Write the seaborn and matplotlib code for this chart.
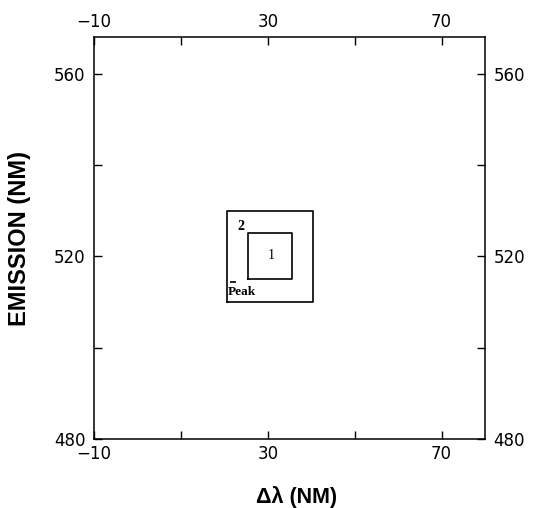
import numpy as np
import pandas as pd
import matplotlib
matplotlib.use('Agg')
import matplotlib.pyplot as plt
import seaborn as sns

# Data
regions = ['2', '1']
x_low = [20.5, 25.5]
x_high = [40.5, 35.5]
y_low = [510, 515]
y_high = [530, 525]
label_x = [23.8, 30.7]
label_y = [526.6, 520.2]

peak_x = [22.0]
peak_y = [514.3]

x_limits = [-10, 80]
y_limits = [480, 568]
x_major = [-10, 30, 70]
x_minor = [10, 50]
y_major = [480, 520, 560]
y_minor = [500, 540]

# build closed outlines for each box
rows = []
for name, x0, x1, y0, y1 in zip(regions, x_low, x_high, y_low, y_high):
    for i, (px, py) in enumerate([(x0, y0), (x1, y0), (x1, y1), (x0, y1), (x0, y0)]):
        rows.append({'region': name, 'order': i, 'x': px, 'y': py})
boxes = pd.DataFrame(rows)

sns.set_style('ticks')
plt.rcParams['font.family'] = ['DejaVu Sans']
plt.rcParams['text.color'] = 'black'
plt.rcParams['axes.labelcolor'] = 'black'
plt.rcParams['xtick.color'] = 'black'
plt.rcParams['ytick.color'] = 'black'
plt.rcParams['axes.edgecolor'] = 'black'

fig = plt.figure(figsize=(5.39, 5.08), dpi=100)
ax = fig.add_axes([0.1744, 0.1358, 0.7254, 0.7913])

sns.lineplot(data=boxes, x='x', y='y', units='region', estimator=None, sort=False,
             color='black', linewidth=1.2, ax=ax)
sns.scatterplot(x=peak_x, y=peak_y, marker='_', s=18, color='black', linewidth=1.2, ax=ax)

for name, tx, ty in zip(regions, label_x, label_y):
    ax.text(tx, ty, name, ha='center', va='center', fontsize=10,
            family='Liberation Serif', fontweight='bold' if name == '2' else 'normal')
ax.text(peak_x[0] + 2.1, peak_y[0] - 2.2, 'Peak', ha='center', va='center', fontsize=9.5,
        family='Liberation Serif', fontweight='bold')

ax.set_xlim(x_limits)
ax.set_ylim(y_limits)
ax.set_xticks(x_major)
ax.set_xticks(x_minor, minor=True)
ax.set_yticks(y_major)
ax.set_yticks(y_minor, minor=True)
ax.set_xticklabels(['\u221210', '30', '70'])

ax.tick_params(which='both', direction='in', length=6, width=1, top=True, right=True,
               labeltop=True, labelright=True, labelsize=12, pad=6)
ax.tick_params(axis='x', which='both', pad=4)
for side in ['top', 'bottom', 'left', 'right']:
    ax.spines[side].set_visible(True)
    ax.spines[side].set_linewidth(1.1)

ax.set_xlabel('\u0394\u03bb (NM)', fontsize=15.5, fontweight='bold', family='Liberation Sans')
ax.set_ylabel('EMISSION (NM)', fontsize=17, fontweight='bold', family='Liberation Sans')
ax.xaxis.set_label_coords(0.517, -0.118)
ax.yaxis.set_label_coords(-0.162, 0.5)

fig.savefig('out.png', dpi=100)
